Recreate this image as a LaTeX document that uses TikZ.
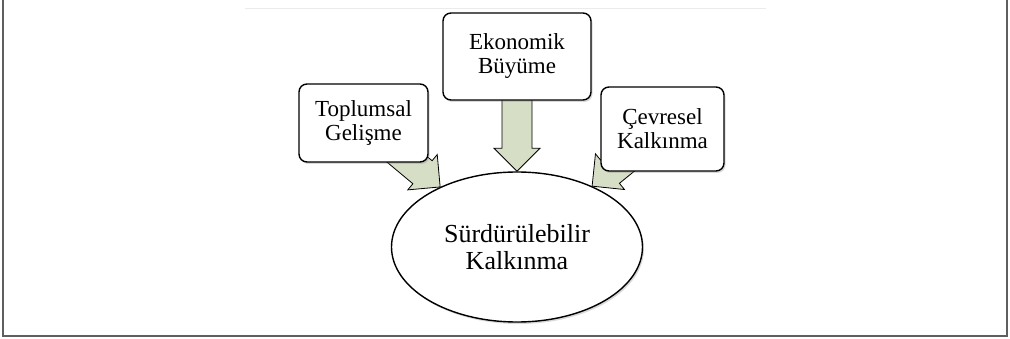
\documentclass[tikz,border=0pt]{standalone}
\usepackage{fontspec}
\setmainfont{Liberation Serif}
\usetikzlibrary{calc,shapes.geometric,shadows,backgrounds}
\definecolor{okyesil}{RGB}{214,222,198}
\definecolor{cerceve}{RGB}{95,95,95}
\tikzset{
  kutu/.style={draw, line width=1.4pt, rounded corners=8pt, fill=white, align=center, inner sep=0pt,
    font=\fontsize{23}{24}\selectfont,
    drop shadow={opacity=0.3, shadow xshift=1.5pt, shadow yshift=-2pt}},
  elips/.style={ellipse, draw, line width=1.4pt, fill=white, align=center, inner sep=0pt,
    minimum width=251pt, minimum height=150pt, font=\fontsize{26}{27}\selectfont,
    drop shadow={opacity=0.3, shadow xshift=1.5pt, shadow yshift=-2pt}},
  okblok/.style={draw=black, line width=0.8pt, fill=okyesil, line join=miter}
}
% block arrow: #1 tail, #2 tip, #3 name of head base
\newcommand{\blokok}[3]{%
  \coordinate (#3) at ($(#2)!23pt!(#1)$);
  \draw[okblok] ($(#1)!15pt!90:(#2)$) -- ($(#3)!15pt!90:(#2)$) -- ($(#3)!23pt!90:(#2)$) -- (#2)
    -- ($(#3)!23pt!-90:(#2)$) -- ($(#3)!15pt!-90:(#2)$) -- ($(#1)!15pt!-90:(#2)$) -- cycle;
}
\begin{document}
\begin{tikzpicture}[x=1pt,y=-1pt]
  \useasboundingbox (0,0) rectangle (1010,339);
  % frame
  \draw[cerceve, line width=2pt] (3,0) -- (3,336) -- (1007,336) -- (1007,0);
  \draw[black!8, line width=1pt] (245,9) -- (766,9);
  % nodes
  \node[kutu, minimum width=148pt, minimum height=87pt] (ekonomik) at (517,56.5) {Ekonomik\\Büyüme};
  \node[kutu, minimum width=129pt, minimum height=78pt] (toplumsal) at (363.5,123) {Toplumsal\\Gelişme};
  \node[kutu, minimum width=123pt, minimum height=84pt] (cevresel) at (662.5,129) {Çevresel\\Kalkınma};
  \node[elips] (surdurulebilir) at (517,247) {Sürdürülebilir\\Kalkınma};
  % arrows
  \begin{scope}[on background layer]
    \blokok{ekonomik.center}{surdurulebilir.north}{eb}
    \blokok{toplumsal.center}{surdurulebilir.142}{tb}
    \blokok{cevresel.center}{surdurulebilir.39}{cb}
  \end{scope}
\end{tikzpicture}
\end{document}
